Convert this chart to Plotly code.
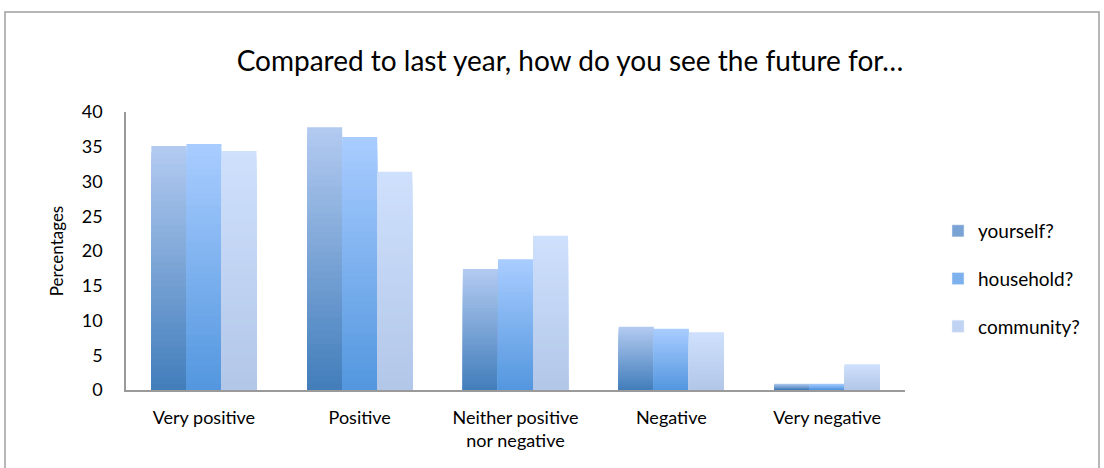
import plotly.graph_objects as go

# Survey answers, percentages per answer category
categories = ["Very positive", "Positive", "Neither positive<br>nor negative", "Negative", "Very negative"]
series_names = ["yourself?", "household?", "community?"]
yourself = [35.1, 37.8, 17.4, 9.1, 0.9]
household = [35.4, 36.4, 18.8, 8.8, 0.9]
community = [34.4, 31.4, 22.2, 8.3, 3.7]
y_ticks = [0, 5, 10, 15, 20, 25, 30, 35, 40]

series_values = [yourself, household, community]
# (top colour, bottom colour) of each series' vertical gradient
gradients = [
    ((178, 202, 240), (64, 124, 186)),
    ((168, 204, 255), (82, 150, 222)),
    ((206, 224, 252), (178, 198, 232)),
]

W, H = 1104, 468
L, R, T, B = 126, 199, 112, 78
plot_w, plot_h = W - L - R, H - T - B

bar_w = 0.225
offsets = [-1.5 * bar_w, -0.5 * bar_w, 0.5 * bar_w]
steps = 40

def mix(c0, c1, t):
    return "rgb(%d,%d,%d)" % tuple(round(a + (b - a) * t) for a, b in zip(c0, c1))

fig = go.Figure()
for name, vals, (top, bottom), off in zip(series_names, series_values, gradients, offsets):
    # overlaid bars of decreasing height give a light-top / dark-bottom gradient
    for k in range(steps, 0, -1):
        frac = k / steps
        fig.add_trace(go.Bar(
            x=categories,
            y=[v * frac for v in vals],
            width=bar_w,
            offset=off,
            marker=dict(color=mix(bottom, top, frac), line=dict(width=0)),
            name=name,
            showlegend=False,
            hoverinfo="skip",
        ))
    # legend entry
    fig.add_trace(go.Bar(
        x=[categories[0]], y=[None], name=name,
        legendgroup=name,
        marker=dict(color=mix(bottom, top, 0.5)),
        showlegend=True,
    ))

font_family = "Lato, 'Open Sans', sans-serif"

fig.update_layout(
    width=W, height=H,
    margin=dict(l=L, r=R, t=T, b=B),
    barmode="overlay",
    plot_bgcolor="white",
    paper_bgcolor="white",
    font=dict(family=font_family, size=18, color="#000000"),
    title=dict(
        text="Compared to last year, how do you see the future for…",
        x=(570 - L) / plot_w, xanchor="center", xref="paper",
        y=1 - 61 / H, yanchor="middle",
        font=dict(size=28, family=font_family, color="#000000"),
    ),
    legend=dict(
        x=(938 - L) / plot_w, xanchor="left",
        y=(390 - 212) / plot_h, yanchor="top",
        font=dict(size=19),
        tracegroupgap=20,
        itemwidth=30,
        bgcolor="rgba(0,0,0,0)",
    ),
    xaxis=dict(
        showline=True, linecolor="#9a9a9a", linewidth=2,
        ticks="", showgrid=False,
        tickfont=dict(size=18),
        ticklabelstandoff=10,
    ),
    yaxis=dict(
        range=[0, 40], tickvals=y_ticks,
        showline=True, linecolor="#9a9a9a", linewidth=1.5,
        ticks="", showgrid=False, zeroline=False,
        tickfont=dict(size=18),
        ticklabelstandoff=18,
        title=dict(text="Percentages", font=dict(size=17), standoff=14),
    ),
    shapes=[dict(
        type="rect", xref="paper", yref="paper",
        x0=(5 - L) / plot_w, x1=(1099 - L) / plot_w,
        y0=(390 - 480) / plot_h, y1=(390 - 12) / plot_h,
        line=dict(color="#a0a0a0", width=1.5),
        fillcolor="rgba(0,0,0,0)", layer="below",
    )],
)

fig.write_html("out.html")
